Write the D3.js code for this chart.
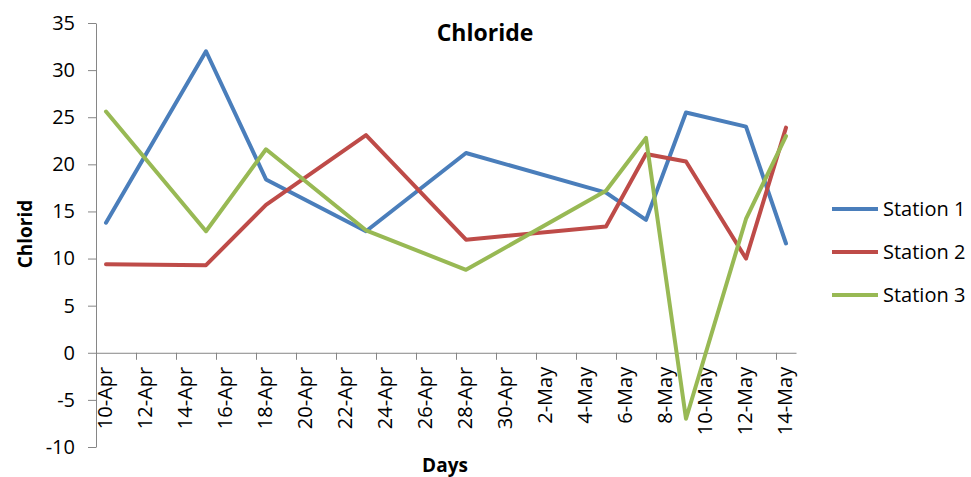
<!DOCTYPE html>
<html>
<head>
<meta charset="utf-8">
<script src="https://cdn.jsdelivr.net/npm/d3@7"></script>
<style>
  body { margin: 0; background: #fff; }
  text { font-family: "Open Sans", Lato, sans-serif; fill: #000; }
</style>
</head>
<body>
<div id="chart"></div>
<script>
// sampling days (year is arbitrary, only day/month shown)
var sampleDates = ["2013-04-10", "2013-04-15", "2013-04-18", "2013-04-23", "2013-04-28",
                   "2013-05-05", "2013-05-07", "2013-05-09", "2013-05-12", "2013-05-14"]
var station1 = [13.8, 32.0, 18.4, 12.9, 21.2, 17.0, 14.1, 25.5, 24.0, 11.6]
var station2 = [9.4, 9.3, 15.7, 23.1, 12.0, 13.4, 21.1, 20.3, 10.0, 23.9]
var station3 = [25.6, 12.9, 21.6, 13.0, 8.8, 17.2, 22.8, -7.0, 14.2, 23.0]
var seriesNames = ["Station 1", "Station 2", "Station 3"]
var seriesColors = ["#4a7ebb", "#be4b48", "#98b954"]
var yTicks = [-10, -5, 0, 5, 10, 15, 20, 25, 30, 35]

var width = 971, height = 477
var margin = {top: 23, left: 96, right: 175, bottom: 30}
var plotW = 700, plotH = 424

var parse = d3.timeParse("%Y-%m-%d")
var dates = sampleDates.map(parse)
var start = parse("2013-04-10"), end = parse("2013-05-15")

var svg = d3.select("#chart")
  .append("svg")
    .attr("width", width)
    .attr("height", height)

var g = svg.append("g")
  .attr("transform", "translate(" + margin.left + "," + margin.top + ")")

var x = d3.scaleTime().domain([start, end]).range([0, plotW])
var y = d3.scaleLinear().domain([-10, 35]).range([plotH, 0])

// day centre (Excel date axis puts points in the middle of each day)
function mid(d) { return x(d3.timeHour.offset(d, 12)) }

// y axis, plain hyphen for negatives like the original
var yAxis = g.append("g")
  .call(d3.axisLeft(y).tickValues(yTicks).tickSize(8).tickSizeOuter(0).tickPadding(13)
    .tickFormat(function(d) { return String(d) }))
yAxis.select(".domain").attr("stroke", "#868686")
yAxis.selectAll(".tick line").attr("stroke", "#868686")
yAxis.selectAll(".tick text")
  .style("font-size", "20px")
  .attr("fill", "#000")

// x axis crossing at zero
var tickDates = d3.timeDay.range(start, end, 2)
var xAxis = g.append("g")
  .attr("transform", "translate(0," + y(0) + ")")
  .call(d3.axisBottom(x).tickValues(tickDates).tickSize(7).tickSizeOuter(0).tickFormat(""))
xAxis.select(".domain").attr("stroke", "#868686")
xAxis.selectAll(".tick line").attr("stroke", "#868686")

var fmt = d3.timeFormat("%-d-%b")
xAxis.selectAll(".lbl")
  .data(tickDates)
  .enter().append("text")
    .attr("class", "lbl")
    .attr("transform", function(d) { return "translate(" + (mid(d) + 6) + ",14) rotate(-90)" })
    .attr("text-anchor", "end")
    .style("font-size", "20px")
    .text(function(d) { return fmt(d) })

// lines
var allSeries = [station1, station2, station3]
var line = d3.line()
  .x(function(d, i) { return mid(dates[i]) })
  .y(function(d) { return y(d) })

g.selectAll(".series")
  .data(allSeries)
  .enter().append("path")
    .attr("class", "series")
    .attr("d", line)
    .attr("fill", "none")
    .attr("stroke", function(d, i) { return seriesColors[i] })
    .attr("stroke-width", 4)
    .attr("stroke-linejoin", "round")
    .attr("stroke-linecap", "round")

// titles
svg.append("text")
  .attr("x", 485).attr("y", 41)
  .attr("text-anchor", "middle")
  .style("font-size", "23px").style("font-weight", "bold")
  .text("Chloride")

svg.append("text")
  .attr("x", 445).attr("y", 472)
  .attr("text-anchor", "middle")
  .style("font-size", "19px").style("font-weight", "bold")
  .text("Days")

svg.append("text")
  .attr("transform", "translate(32,234) rotate(-90)")
  .attr("text-anchor", "middle")
  .style("font-size", "19px").style("font-weight", "bold")
  .text("Chlorid")

// legend
var legend = svg.selectAll(".legend")
  .data(seriesNames)
  .enter().append("g")
    .attr("class", "legend")
    .attr("transform", function(d, i) { return "translate(832," + (209 + i * 43) + ")" })

legend.append("line")
  .attr("x1", 0).attr("x2", 46)
  .attr("stroke", function(d, i) { return seriesColors[i] })
  .attr("stroke-width", 4)

legend.append("text")
  .attr("x", 51).attr("y", 7)
  .style("font-size", "20px")
  .text(function(d) { return d })
</script>
</body>
</html>
